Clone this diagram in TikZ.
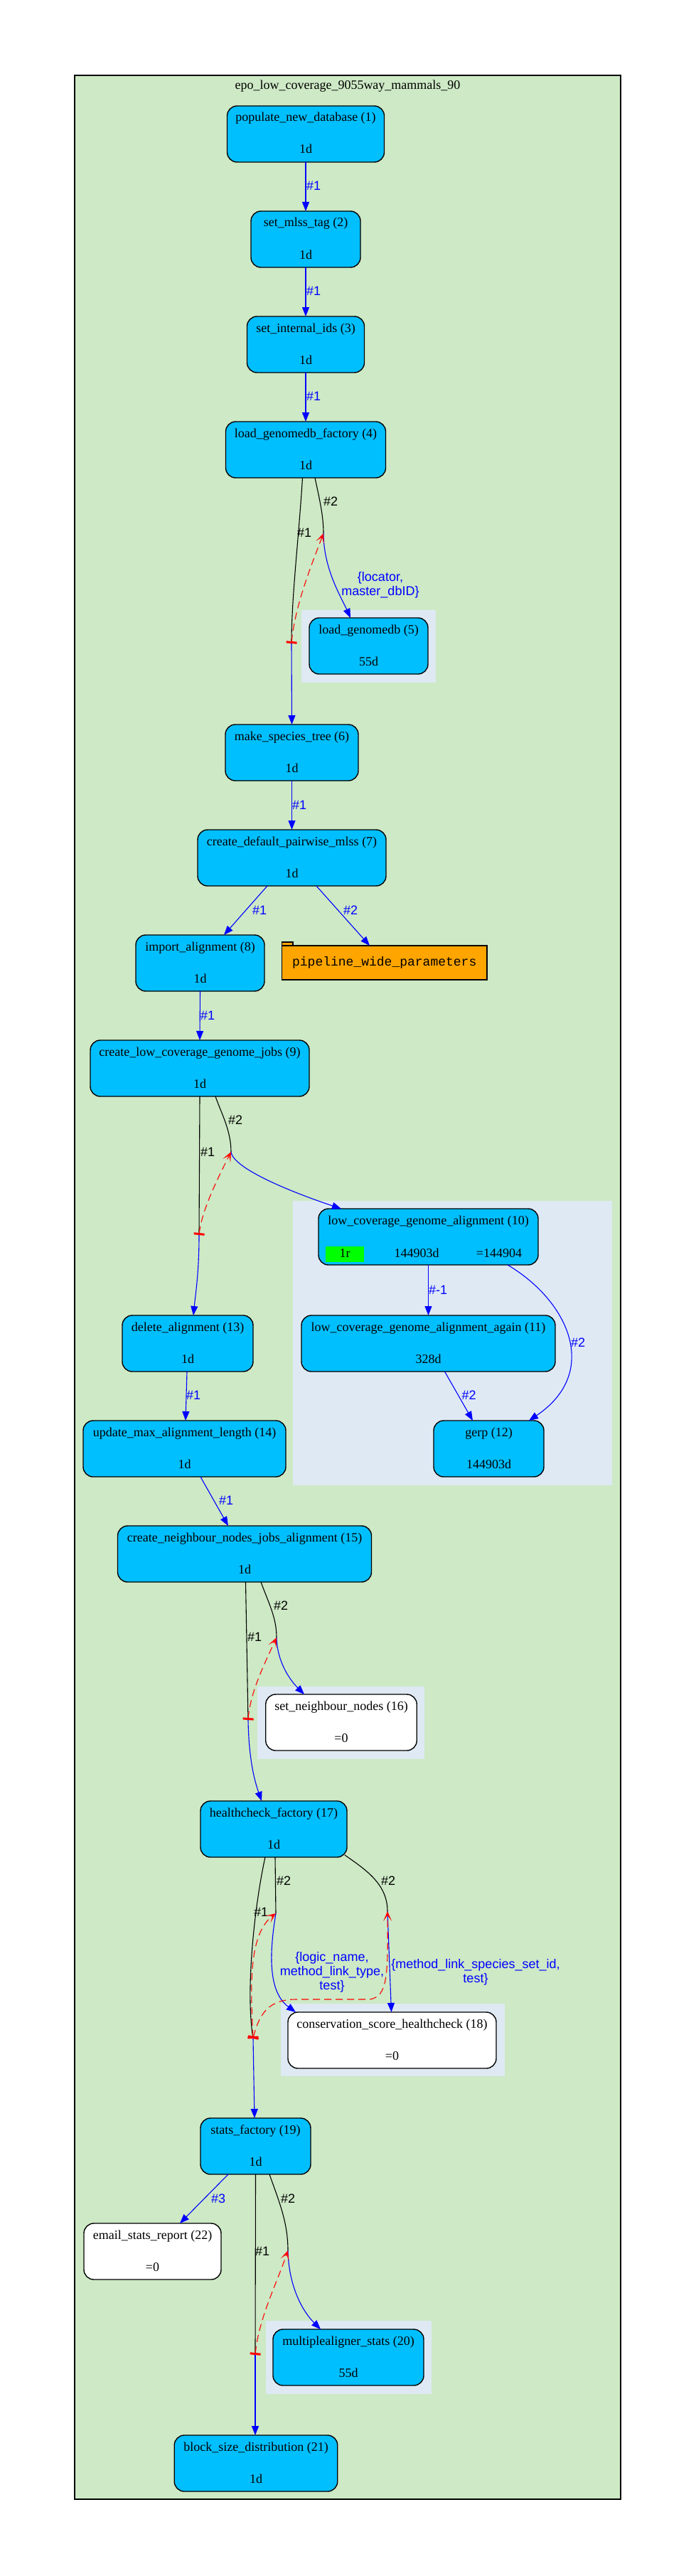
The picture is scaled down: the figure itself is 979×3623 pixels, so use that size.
\documentclass[tikz,border=0pt]{standalone}
\usepackage{fontspec}
\setmainfont{Liberation Serif}
\setsansfont{Liberation Sans}
\setmonofont{Liberation Mono}
\usetikzlibrary{arrows.meta}
\definecolor{clgreen}{HTML}{CDE9C5}
\definecolor{subblue}{HTML}{DEE9F4}
\definecolor{taskblue}{HTML}{00BFFF}
\definecolor{pwporange}{HTML}{FFA500}
\definecolor{hgreen}{HTML}{00FF00}
\newcommand\tasknode[7]{%
  \node[#2, minimum width=#5pt, anchor=north] (#1) at (#3,#4) {};
  \node[txt] (#1-a) at (#3,{#4+22}) {#6};
  \node[txt] (#1-b) at (#3,{#4+67}) {#7};
}
\begin{document}
\begin{tikzpicture}[x=1pt,y=-1pt,
  every node/.style={inner sep=0pt, outer sep=0pt},
  task/.style={draw=black, line width=1.4pt, rounded corners=14pt, fill=taskblue, minimum height=79pt},
  wtask/.style={task, fill=white},
  txt/.style={font=\fontsize{18}{21}\selectfont, anchor=base},
  lbl/.style={font=\sffamily\fontsize{18}{20}\selectfont, anchor=west},
  blab/.style={font=\sffamily\fontsize{18}{20}\selectfont, text=blue, align=center},
  flow/.style={draw=blue, line width=1.1pt, -{Triangle[length=13pt,width=10pt]}},
  ctrl/.style={draw=black, line width=1.1pt},
  sema/.style={draw=red, line width=1.1pt, dash pattern=on 10pt off 6pt,
    {Bar[width=15pt,line width=3pt]}-{Stealth[length=14pt,width=12pt,inset=8pt]}},
  fanbox/.style={fill=subblue}
]
\useasboundingbox (0,0) rectangle (979,3623);
\fill[white] (0,0) rectangle (979,3623);
% main cluster
\draw[line width=2.5pt, fill=clgreen] (105,106) rectangle (873,3515);
\node[font=\fontsize{18}{21}\selectfont] (title) at (489,121) {epo\_low\_coverage\_9055way\_mammals\_90};
% fan boxes
\fill[fanbox] (424,858) rectangle (613,960);
\fill[fanbox] (412,1689) rectangle (861,2089);
\fill[fanbox] (362,2372) rectangle (597,2474);
\fill[fanbox] (394.5,2818) rectangle (710,2920);
\fill[fanbox] (374,3264) rectangle (607,3367);
% tasks
\tasknode{n1}{task}{430}{149}{221}{populate\_new\_database (1)}{1d}
\tasknode{n2}{task}{430}{297}{154}{set\_mlss\_tag (2)}{1d}
\tasknode{n3}{task}{430}{445}{165}{set\_internal\_ids (3)}{1d}
\tasknode{n4}{task}{430}{593}{225}{load\_genomedb\_factory (4)}{1d}
\tasknode{n5}{task}{518.5}{869}{167}{load\_genomedb (5)}{55d}
\tasknode{n6}{task}{410.5}{1019}{187}{make\_species\_tree (6)}{1d}
\tasknode{n7}{task}{410.5}{1167}{265}{create\_default\_pairwise\_mlss (7)}{1d}
\tasknode{n8}{task}{281.5}{1315}{181}{import\_alignment (8)}{1d}
\tasknode{n9}{task}{281}{1463}{308}{create\_low\_coverage\_genome\_jobs (9)}{1d}
\node[task, minimum width=309pt, anchor=north] (n10) at (602.5,1700) {};
\node[txt] (n10-a) at (602.5,1722) {low\_coverage\_genome\_alignment (10)};
\fill[hgreen] (458,1753) rectangle (512,1775);
\node[txt] (n10-r) at (485,1768) {1r};
\node[txt] (n10-c) at (586,1768) {144903d};
\node[txt] (n10-d) at (702,1768) {=144904};
\tasknode{n11}{task}{602.5}{1850}{357}{low\_coverage\_genome\_alignment\_again (11)}{328d}
\tasknode{n12}{task}{687.5}{1998}{155}{gerp (12)}{144903d}
\tasknode{n13}{task}{264}{1850}{184}{delete\_alignment (13)}{1d}
\tasknode{n14}{task}{259.5}{1998}{285}{update\_max\_alignment\_length (14)}{1d}
\tasknode{n15}{task}{344}{2146}{357}{create\_neighbour\_nodes\_jobs\_alignment (15)}{1d}
\tasknode{n16}{wtask}{480}{2383}{212.5}{set\_neighbour\_nodes (16)}{=0}
\tasknode{n17}{task}{385}{2533}{206}{healthcheck\_factory (17)}{1d}
\tasknode{n18}{wtask}{551.5}{2830}{293}{conservation\_score\_healthcheck (18)}{=0}
\tasknode{n19}{task}{359.5}{2979}{155}{stats\_factory (19)}{1d}
\tasknode{n20}{task}{490}{3276}{212}{multiplealigner\_stats (20)}{55d}
\tasknode{n21}{task}{360}{3425}{229.5}{block\_size\_distribution (21)}{1d}
\tasknode{n22}{wtask}{214.5}{3127}{193}{email\_stats\_report (22)}{=0}
% pipeline wide parameters (folder)
\draw[line width=1.4pt, fill=pwporange] (396.5,1325) rectangle (412,1330);
\node[draw=black, line width=1.4pt, fill=pwporange, minimum width=288.5pt, minimum height=48pt,
  font=\ttfamily\fontsize{18}{21}\selectfont] (pwp) at (540.75,1354) {pipeline\_wide\_parameters};
% junction points
\coordinate (f4a) at (410,905);  \coordinate (f4b) at (455,750);
\coordinate (f9a) at (280,1737); \coordinate (f9b) at (325,1620);
\coordinate (f15a) at (349,2419); \coordinate (f15b) at (389,2303);
\coordinate (f17a) at (356,2867); \coordinate (f17b) at (388,2691); \coordinate (f17c) at (545,2688);
\coordinate (f19a) at (359,3312); \coordinate (f19b) at (405,3165);
% simple chain
\draw[flow] (n1) -- (n2);
\node[lbl, text=blue] (l12) at (431,261) {\#1};
\draw[flow] (n2) -- (n3);
\node[lbl, text=blue] (l23) at (431,409) {\#1};
\draw[flow] (n3) -- (n4);
\node[lbl, text=blue] (l34) at (431,557) {\#1};
% fan 4
\draw[ctrl] ([xshift=-4.5pt]n4.south) .. controls (420,760) and (410,840) .. (f4a);
\draw[ctrl] ([xshift=13pt]n4.south) .. controls (449,700) and (455,725) .. (f4b);
\node[lbl] (l4a) at (418,749) {\#1};
\node[lbl] (l4b) at (455,705) {\#2};
\draw[flow] (f4b) .. controls (455,800) and (480,840) .. ([xshift=-25.5pt]n5.north);
\draw[flow] (f4a) -- (n6.north);
\draw[sema] (f4a) .. controls (415,850) and (440,790) .. (f4b);
\node[blab] (l4c) at (535,823) {\{locator,\\master\_dbID\}};
% 6 -> 7 -> 8, pwp
\draw[flow] (n6) -- (n7);
\node[lbl, text=blue] (l67) at (411,1132) {\#1};
\draw[flow] ([xshift=-34.5pt]n7.south) -- ([xshift=33.5pt]n8.north);
\node[lbl, text=blue] (l78) at (355,1280) {\#1};
\draw[flow] ([xshift=34.5pt]n7.south) -- ([xshift=-20.75pt]pwp.north);
\node[lbl, text=blue] (l7p) at (483,1280) {\#2};
\draw[flow] (n8.south) -- (n9.north);
\node[lbl, text=blue] (l89) at (282,1428) {\#1};
% fan 9
\draw[ctrl] (n9.south) -- (f9a);
\draw[ctrl] ([xshift=22pt]n9.south) .. controls (311,1565) and (325,1590) .. (f9b);
\node[lbl] (l9a) at (282,1620) {\#1};
\node[lbl] (l9b) at (321,1575) {\#2};
\draw[flow] (f9b) .. controls (328,1645) and (420,1680) .. ([xshift=-122.5pt]n10.north);
\draw[flow] (f9a) .. controls (280,1790) and (275,1820) .. ([xshift=8pt]n13.north);
\draw[sema] (f9a) .. controls (284,1700) and (310,1650) .. (f9b);
% fan box 10-12
\draw[flow] (n10) -- (n11);
\node[lbl, text=blue] (l1011) at (603,1814) {\#-1};
\draw[flow] ([xshift=23pt]n11.south) -- ([xshift=-22.5pt]n12.north);
\node[lbl, text=blue] (l1112) at (649.5,1962) {\#2};
\draw[flow] ([xshift=111.5pt]n10.south) .. controls (800,1830) and (845,1930) .. ([xshift=56.5pt]n12.north);
\node[lbl, text=blue] (l1012) at (803,1888) {\#2};
% 13 -> 14 -> 15
\draw[flow] ([xshift=-1pt]n13.south) -- ([xshift=1.5pt]n14.north);
\node[lbl, text=blue] (l1314) at (262,1962) {\#1};
\draw[flow] ([xshift=22.5pt]n14.south) -- ([xshift=-23pt]n15.north);
\node[lbl, text=blue] (l1415) at (308,2110) {\#1};
% fan 15
\draw[ctrl] ([xshift=1.5pt]n15.south) -- (f15a);
\draw[ctrl] ([xshift=23pt]n15.south) .. controls (378,2255) and (389,2275) .. (f15b);
\node[lbl] (l15a) at (348,2302) {\#1};
\node[lbl] (l15b) at (385,2258) {\#2};
\draw[flow] (f15b) .. controls (390,2340) and (410,2365) .. ([xshift=-52pt]n16.north);
\draw[flow] (f15a) .. controls (350,2480) and (360,2510) .. ([xshift=-17pt]n17.north);
\draw[sema] (f15a) .. controls (352,2380) and (372,2340) .. (f15b);
% fan 17
\draw[ctrl] ([xshift=-12pt]n17.south) .. controls (358,2680) and (345,2800) .. (f17a);
\draw[ctrl] ([xshift=2pt]n17.south) -- (f17b);
\draw[ctrl] ([xshift=-3pt,yshift=3pt]n17.south east) .. controls (515,2630) and (545,2650) .. (f17c);
\node[lbl] (l17a) at (357,2689) {\#1};
\node[lbl] (l17b) at (389,2645) {\#2};
\node[lbl] (l17c) at (536,2645) {\#2};
\draw[flow] (f17b) .. controls (380,2740) and (375,2800) .. ([xshift=-135.5pt]n18.north);
\draw[flow] (f17c) -- ([xshift=-1pt]n18.north);
\draw[flow] (f17a) -- ([xshift=-1.5pt]n19.north);
\draw[sema] (f17a) .. controls (352,2790) and (350,2720) .. (f17b);
\draw[sema] (f17a) .. controls (365,2830) and (380,2812) .. (416,2812) -- (520,2812) .. controls (545,2808) and (546,2780) .. (f17c);
\node[blab] (l17d) at (467,2774) {\{logic\_name,\\method\_link\_type,\\test\}};
\node[blab] (l17e) at (669,2774) {\{method\_link\_species\_set\_id,\\test\}};
% stats
\draw[flow] ([xshift=-38.5pt]n19.south) -- ([xshift=38.5pt]n22.north);
\node[lbl, text=blue] (l1922) at (297,3092) {\#3};
\draw[ctrl] (n19.south) -- (f19a);
\draw[ctrl] ([xshift=19.5pt]n19.south) .. controls (392,3095) and (405,3125) .. (f19b);
\node[lbl] (l19a) at (359,3166) {\#1};
\node[lbl] (l19b) at (395,3092) {\#2};
\draw[flow] (f19b) .. controls (406,3215) and (425,3250) .. ([xshift=-39pt]n20.north);
\draw[flow] (f19a) -- ([xshift=-1pt]n21.north);
\draw[sema] (f19a) .. controls (364,3260) and (390,3210) .. (f19b);
\end{tikzpicture}
\end{document}
